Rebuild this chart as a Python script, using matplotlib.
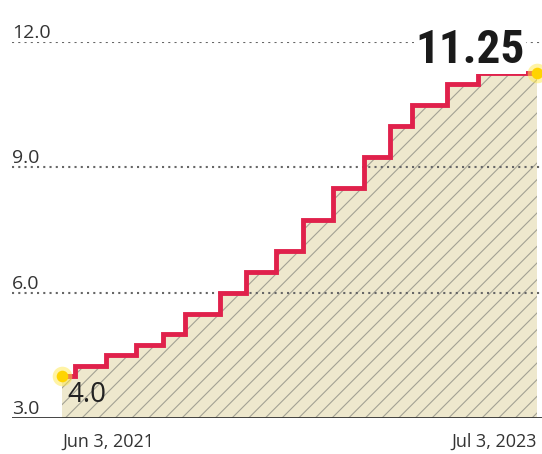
import matplotlib
matplotlib.use("Agg")
import matplotlib.pyplot as plt
from datetime import date, timedelta

# policy rate decisions (%), first point is the start of the window
dates = [date(2021, 6, 3), date(2021, 6, 24), date(2021, 8, 12), date(2021, 9, 30),
         date(2021, 11, 11), date(2021, 12, 16), date(2022, 2, 10), date(2022, 3, 24),
         date(2022, 5, 12), date(2022, 6, 23), date(2022, 8, 11), date(2022, 9, 29),
         date(2022, 11, 10), date(2022, 12, 15), date(2023, 2, 9), date(2023, 3, 30),
         date(2023, 7, 3)]
rates = [4.0, 4.25, 4.5, 4.75, 5.0, 5.5, 6.0, 6.5, 7.0, 7.75, 8.5, 9.25,
         10.0, 10.5, 11.0, 11.25, 11.25]
yticks = [3.0, 6.0, 9.0, 12.0]
xlabels = ["Jun 3, 2021", "Jul 3, 2023"]

plt.rcParams['font.family'] = ['Open Sans', 'DejaVu Sans']
plt.rcParams['hatch.linewidth'] = 0.8

fig = plt.figure(figsize=(5.42, 4.54), dpi=100)
ax = fig.add_axes([12 / 542, 1 - 418 / 454, 530 / 542, 376 / 454])

ax.fill_between(dates, rates, 3.0, step='post', facecolor='#eee8cd',
                edgecolor='#a3a294', hatch='//', linewidth=0, zorder=1)

for y in yticks[1:]:
    ax.axhline(y, color='#666666', lw=1.5, ls=(0, (1, 2)), zorder=2)
ax.axhline(3.0, color='#333333', lw=2, zorder=3)

ax.step(dates, rates, where='post', color='#e0214b', lw=3.5, zorder=4,
        solid_joinstyle='miter')

ends = [dates[0], dates[-1]]
endv = [rates[0], rates[-1]]
ax.scatter(ends, endv, s=200, color='#ffe94d', alpha=0.5, lw=0, zorder=5)
ax.scatter(ends, endv, s=70, color='#ffd400', lw=0, zorder=6)

ax.set_xlim(dates[0] - timedelta(days=80), dates[0] + timedelta(days=768))
ax.set_ylim(3.0, 12.0)
ax.axis('off')

for y in yticks:
    ax.annotate(f"{y:.1f}", xy=(0, y), xycoords=('axes fraction', 'data'),
                xytext=(0, 4), textcoords='offset pixels', va='baseline',
                ha='left', fontsize=14, color='#333333')

ax.annotate(xlabels[0], xy=(dates[0], 3.0), xytext=(0, -29),
            textcoords='offset pixels', ha='left', va='baseline',
            fontsize=13, color='#333333', annotation_clip=False)
ax.annotate(xlabels[1], xy=(dates[-1], 3.0), xytext=(0, -29),
            textcoords='offset pixels', ha='right', va='baseline',
            fontsize=13, color='#333333', annotation_clip=False)

ax.annotate(f"{rates[0]:.1f}", xy=(dates[0], rates[0]), xytext=(5, -26),
            textcoords='offset pixels', ha='left', va='baseline',
            fontsize=20, color='#222222')
ax.annotate(f"{rates[-1]:.2f}", xy=(dates[-1], rates[-1]), xytext=(-12, 10),
            textcoords='offset pixels', ha='right', va='baseline',
            fontsize=34, fontweight='bold', color='#1a1a1a',
            family=['Liberation Sans Narrow', 'Roboto Condensed', 'DejaVu Sans'],
            bbox=dict(facecolor='white', edgecolor='none', pad=1), zorder=7)

fig.savefig("out.png", dpi=100)
